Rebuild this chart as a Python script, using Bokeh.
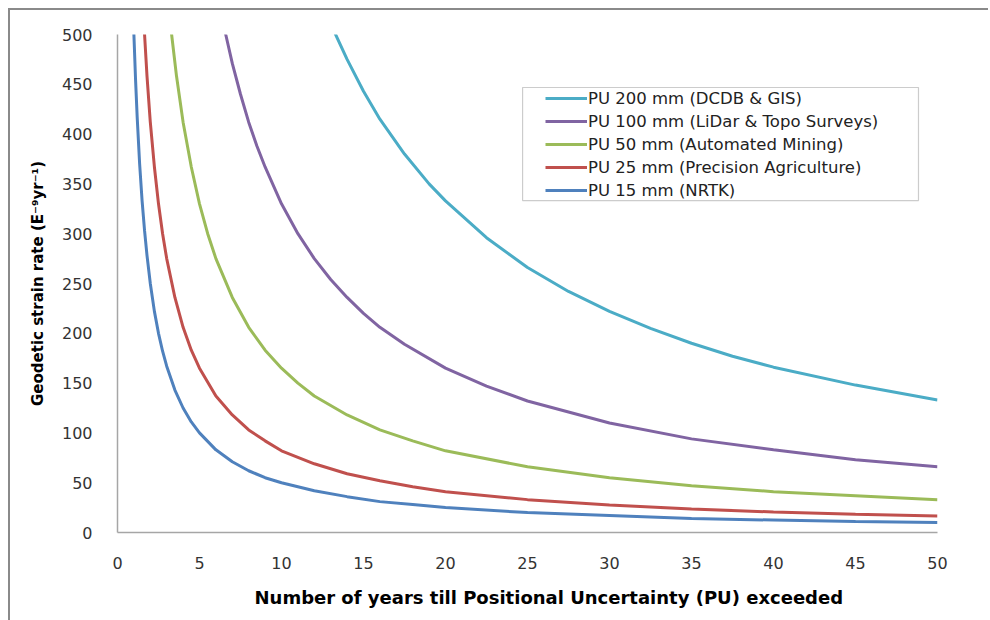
from bokeh.plotting import figure
from bokeh.models import Range1d, FixedTicker, Legend, LegendItem, BoxAnnotation, Title
from bokeh.embed import file_html
from bokeh.resources import INLINE

# ---- data ----
x_ticks = [0, 5, 10, 15, 20, 25, 30, 35, 40, 45, 50]
y_ticks = [0, 50, 100, 150, 200, 250, 300, 350, 400, 450, 500]

series_names = [
    "PU 200 mm (DCDB & GIS)",
    "PU 100 mm (LiDar & Topo Surveys)",
    "PU 50 mm (Automated Mining)",
    "PU 25 mm (Precision Agriculture)",
    "PU 15 mm (NRTK)",
]

pu200_years = [13.0, 13.3, 14, 15, 16, 17.5, 19, 20, 22.5, 25, 27.5, 30, 32.5, 35, 37.5, 40, 45, 50]
pu200_rate = [512, 500, 475, 443, 415, 380, 350, 333, 296, 266, 242, 222, 205, 190, 177, 166, 148, 133]

pu100_years = [6.4, 6.6, 7, 7.5, 8, 8.5, 9, 10, 11, 12, 13, 14, 15, 16, 17.5, 20, 22.5, 25, 30, 35, 40, 45, 50]
pu100_rate = [516, 500, 471, 440, 412, 388, 367, 330, 300, 275, 254, 236, 220, 206, 189, 165, 147, 132, 110, 94, 83, 73, 66]

pu50_years = [3.2, 3.3, 3.6, 4, 4.5, 5, 5.5, 6, 7, 8, 9, 10, 11, 12, 14, 16, 18, 20, 25, 30, 35, 40, 45, 50]
pu50_rate = [516, 500, 458, 412, 367, 330, 300, 275, 236, 206, 183, 165, 150, 137, 118, 103, 92, 82, 66, 55, 47, 41, 37, 33]

pu25_years = [1.6, 1.65, 1.8, 2, 2.25, 2.5, 2.75, 3, 3.5, 4, 4.5, 5, 6, 7, 8, 9, 10, 12, 14, 16, 18, 20, 25, 30, 35, 40, 45, 50]
pu25_rate = [516, 500, 458, 412, 367, 330, 300, 275, 236, 206, 183, 165, 137, 118, 103, 92, 82, 69, 59, 52, 46, 41, 33, 27.5, 23.6, 20.6, 18.3, 16.5]

pu15_years = [0.95, 1, 1.1, 1.2, 1.35, 1.5, 1.65, 1.8, 2, 2.25, 2.5, 2.75, 3, 3.5, 4, 4.5, 5, 6, 7, 8, 9, 10, 12, 14, 16, 18, 20, 25, 30, 35, 40, 45, 50]
pu15_rate = [525, 500, 455, 417, 370, 333, 303, 278, 250, 222, 200, 182, 167, 143, 125, 111, 100, 83, 71, 62, 55, 50, 42, 36, 31, 28, 25, 20, 17, 14, 12.5, 11, 10]

series_years = [pu200_years, pu100_years, pu50_years, pu25_years, pu15_years]
series_rates = [pu200_rate, pu100_rate, pu50_rate, pu25_rate, pu15_rate]
series_colors = ["#4BACC6", "#8064A2", "#9BBB59", "#C0504D", "#4F81BD"]

x_title = "Number of years till Positional Uncertainty (PU) exceeded"
y_title = "Geodetic strain rate (E\u207b\u2079yr\u207b\u00b9)"

FONT = "DejaVu Sans"

p = figure(
    frame_width=820, frame_height=498,
    min_border_left=107, min_border_top=24, min_border_right=51, min_border_bottom=86,
    x_range=Range1d(0, 50), y_range=Range1d(0, 500),
    output_backend="svg", toolbar_location=None,
    background_fill_color="white", border_fill_color="white",
)
p.styles = {"margin-left": "8px", "margin-top": "8px",
            "border-top": "2px solid #8a8a8a", "border-left": "2px solid #8a8a8a"}
p.outline_line_color = None
p.grid.visible = False

for ax in (p.xaxis[0], p.yaxis[0]):
    ax.axis_line_color = "#a6a6a6"
    ax.axis_line_width = 1.5
    ax.major_tick_line_color = None
    ax.minor_tick_line_color = None
    ax.major_label_text_font = FONT
    ax.major_label_text_font_size = "16px"
    ax.major_label_text_color = "#333333"

p.xaxis[0].ticker = FixedTicker(ticks=x_ticks)
p.yaxis[0].ticker = FixedTicker(ticks=y_ticks)
p.xaxis[0].major_label_standoff = 18
p.yaxis[0].major_label_standoff = 19

p.yaxis[0].axis_label = y_title
p.yaxis[0].axis_label_text_font = FONT
p.yaxis[0].axis_label_text_font_style = "bold"
p.yaxis[0].axis_label_text_font_size = "15px"
p.yaxis[0].axis_label_text_color = "#000000"
p.yaxis[0].axis_label_standoff = 12

p.add_layout(Title(text=x_title, align="left", offset=137, text_font=FONT,
                   text_font_style="bold", text_font_size="18px",
                   text_color="#000000", standoff=26), "below")

items = []
for name, xs, ys, c in zip(series_names, series_years, series_rates, series_colors):
    r = p.line(xs, ys, line_color=c, line_width=3)
    items.append(LegendItem(label=name, renderers=[r]))

# legend frame box
p.add_layout(BoxAnnotation(left=24.7, right=48.84, top=446.8, bottom=333.3,
                           fill_alpha=0, line_color="#555555", line_width=1.2))

legend = Legend(items=items, location=(427, 331), margin=0, padding=1,
                spacing=3, glyph_width=42, glyph_height=20, label_height=20,
                label_standoff=1, label_text_font=FONT, label_text_font_size="16.5px",
                label_text_color="#222222", border_line_alpha=0,
                background_fill_alpha=0)
p.add_layout(legend)

open("out.html", "w").write(file_html(p, INLINE))
